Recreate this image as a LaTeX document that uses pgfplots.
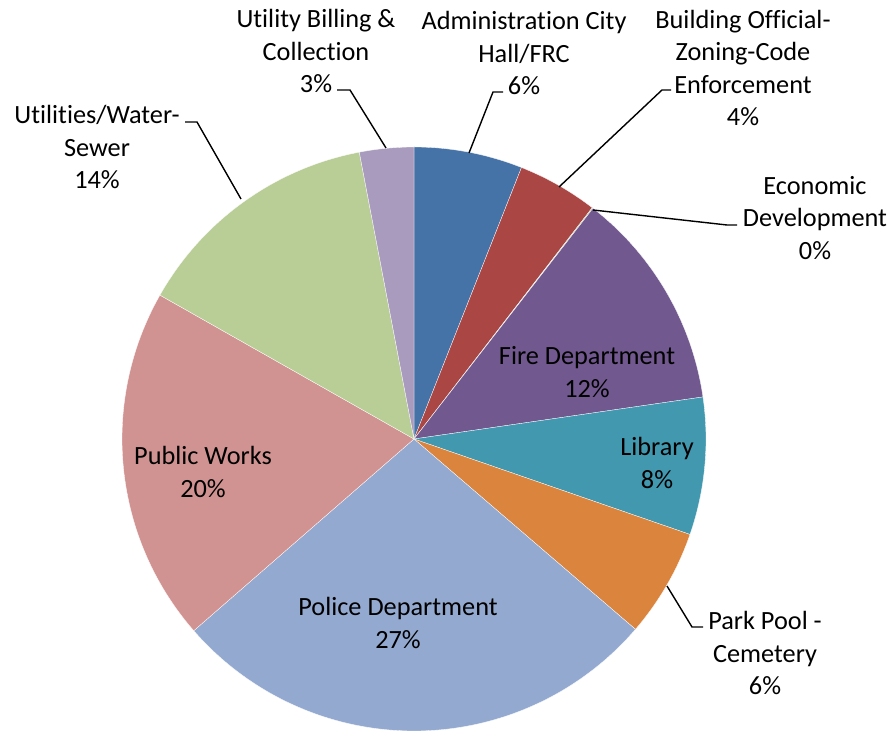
\documentclass[border=0pt]{standalone}
\usepackage{pgfplots}
\pgfplotsset{compat=1.18}
\usepackage{pgfplotstable}
\usepackage{fontspec}
\setmainfont[Ligatures=NoCommon]{Carlito}

\definecolor{cAdm}{HTML}{4572A7}
\definecolor{cBld}{HTML}{AA4643}
\definecolor{cEco}{HTML}{89A54E}
\definecolor{cFire}{HTML}{71588F}
\definecolor{cLib}{HTML}{4198AF}
\definecolor{cPark}{HTML}{DB843D}
\definecolor{cPol}{HTML}{93A9CF}
\definecolor{cPW}{HTML}{D19392}
\definecolor{cUtil}{HTML}{B9CD96}
\definecolor{cBill}{HTML}{A99BBD}

% share of the budget, clockwise from 12 o'clock
\pgfplotstableread{
name     value  color
Admin    6.00   cAdm
Building 4.45   cBld
Economic 0.05   cEco
Fire     12.20  cFire
Library  7.60   cLib
Park     6.00   cPark
Police   27.30  cPol
Public   19.60  cPW
Utility  13.80  cUtil
Billing  3.00   cBill
}\piedata

\newcommand\lbl{\fontsize{26.3bp}{32.5bp}\selectfont}

\begin{document}
\begin{tikzpicture}
\begin{axis}[
  width=893bp, height=731bp, scale only axis,
  xmin=0, xmax=893, ymin=0, ymax=731,
  hide axis, clip=false,
]
\path (axis cs:0,0) rectangle (axis cs:893,731);
\pgfplotstablegetrowsof{\piedata}
\pgfmathtruncatemacro{\nrows}{\pgfplotsretval-1}
\def\angstart{90}
\pgfplotsforeachungrouped \i in {0,...,\nrows}{%
  \pgfplotstablegetelem{\i}{value}\of{\piedata}\let\val\pgfplotsretval
  \pgfplotstablegetelem{\i}{color}\of{\piedata}\let\col\pgfplotsretval
  \pgfmathsetmacro{\angend}{\angstart-3.6*\val}%
  \edef\slice{\noexpand\fill[fill=\col,draw=white,line width=0.3bp]
    (axis cs:414,292) -- ++(\angstart:292bp)
    arc[start angle=\angstart,end angle=\angend,radius=292bp] -- cycle;}%
  \slice
  \global\let\angstart\angend
}

% leader lines
\draw[line width=1.4bp] (axis cs:337,641) -- (axis cs:350,641) -- (axis cs:386,583);
\draw[line width=1.4bp] (axis cs:503,639) -- (axis cs:493,639) -- (axis cs:469,578);
\draw[line width=1.4bp] (axis cs:671,641) -- (axis cs:662,641) -- (axis cs:559,544);
\draw[line width=1.4bp] (axis cs:593,521) -- (axis cs:727,506) -- (axis cs:737,506);
\draw[line width=1.4bp] (axis cs:667,145) -- (axis cs:692,104) -- (axis cs:703,104);
\draw[line width=1.4bp] (axis cs:185,609) -- (axis cs:197,609) -- (axis cs:241,532);

% labels
\tikzset{lab/.style={align=center, font=\lbl, inner sep=0pt, text=black}}
\node[lab] at (axis cs:316,680) {Utility Billing \&\\Collection\\3\%};
\node[lab] at (axis cs:524,678) {Administration City\\Hall/FRC\\6\%};
\node[lab] at (axis cs:743,663) {Building Official-\\Zoning-Code\\Enforcement\\4\%};
\node[lab] at (axis cs:815,513) {Economic\\Development\\0\%};
\node[lab] at (axis cs:587,359) {Fire Department\\12\%};
\node[lab] at (axis cs:657,268) {Library\\8\%};
\node[lab] at (axis cs:765,78) {Park Pool -\\Cemetery\\6\%};
\node[lab] at (axis cs:398,108) {Police Department\\27\%};
\node[lab] at (axis cs:203,259) {Public Works\\20\%};
\node[lab] at (axis cs:97,584) {Utilities/Water-\\Sewer\\14\%};
\end{axis}
\end{tikzpicture}
\end{document}
